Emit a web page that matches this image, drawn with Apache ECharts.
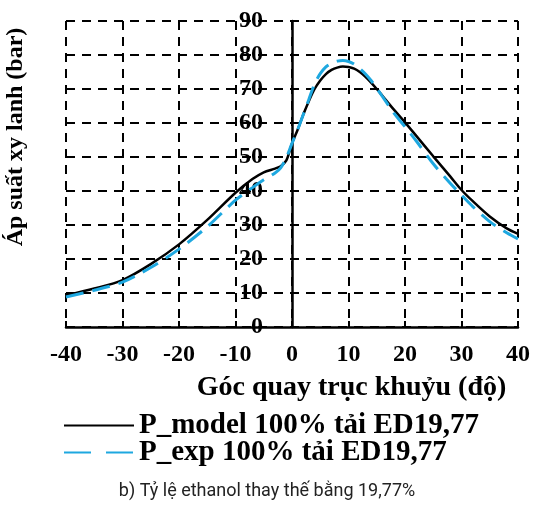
<!DOCTYPE html>
<html>
<head>
<meta charset="utf-8">
<script src="https://cdn.jsdelivr.net/npm/echarts@6/dist/echarts.min.js"></script>
<style>
  html, body { margin: 0; padding: 0; background: #fff; }
  #chart { width: 534px; height: 510px; }
</style>
</head>
<body>
<div id="chart"></div>
<script>
// crank angle (deg) and cylinder pressure (bar)
const angle = [-40, -35, -30, -25, -20, -15, -10, -7, -5, -3, -2, -1,
  0, 1, 2, 3, 4, 5, 6, 7, 8, 9, 10, 11, 12, 13, 14, 15, 16,
  18, 20, 22, 25, 28, 30, 32, 35, 38, 40];
const pModel = [9.3, 11.3, 13.8, 18.5, 24.3, 31.5, 39.5, 43.5, 45.5, 46.6, 47.3, 49.0,
  54.0, 58.0, 62.5, 66.5, 70.0, 72.5, 74.4, 75.6, 76.3, 76.6, 76.5, 76.0, 75.0, 73.6, 71.9, 70.0, 68.0,
  64.0, 60.2, 56.2, 50.2, 44.3, 40.3, 37.0, 32.5, 29.0, 27.4];
const pExp = [8.8, 10.8, 13.2, 17.5, 22.9, 29.5, 37.3, 41.0, 43.3, 45.3, 46.8, 49.8,
  54.0, 58.0, 62.5, 67.0, 71.5, 74.5, 76.5, 77.6, 78.2, 78.4, 78.1, 77.3, 76.0, 74.4, 72.5, 70.2, 67.8,
  63.0, 58.9, 54.7, 48.0, 42.3, 38.8, 35.4, 31.0, 27.7, 25.9];

const seriesNames = ['P_model 100% tải ED19,77', 'P_exp 100% tải ED19,77'];
const xRange = [-40, 40];
const yRange = [0, 90];

const serif = 'Liberation Serif';
const toPairs = (ys) => angle.map((a, i) => [a, ys[i]]);

const gridLeft = 66, gridWidth = 452;
// shift the y axis so it sits on x = 0
const yOffset = -gridWidth * (0 - xRange[0]) / (xRange[1] - xRange[0]);

const chart = echarts.init(document.getElementById('chart'));
chart.setOption({
  animation: false,
  grid: { left: gridLeft, width: gridWidth, top: 21, bottom: 183, outerBoundsMode: 'none', containLabel: false },
  xAxis: {
    type: 'value',
    min: xRange[0], max: xRange[1], interval: 10,
    name: 'Góc quay trục khuỷu (độ)',
    nameLocation: 'middle',
    nameGap: 47,
    nameTextStyle: { fontFamily: serif, fontWeight: 'bold', fontSize: 28, color: '#000', padding: [0, 0, 0, 119] },
    axisLine: { onZero: false, lineStyle: { color: '#000', width: 2.5 } },
    axisTick: { inside: true, length: 6, lineStyle: { color: '#000', width: 2 } },
    axisLabel: { margin: 16, hideOverlap: false, showMinLabel: true, showMaxLabel: true,
      fontFamily: serif, fontWeight: 'bold', fontSize: 24, color: '#000' },
    splitLine: { show: true, lineStyle: { color: '#000', width: 2, type: [9, 7] } }
  },
  yAxis: {
    type: 'value',
    min: yRange[0], max: yRange[1], interval: 10,
    offset: yOffset,
    name: 'Áp suất xy lanh (bar)',
    nameLocation: 'middle',
    nameGap: 264,
    nameTextStyle: { fontFamily: serif, fontWeight: 'bold', fontSize: 24, color: '#000', padding: [0, 0, 0, 74] },
    axisLine: { show: true, onZero: false, lineStyle: { color: '#000', width: 2.5 } },
    axisTick: { show: false },
    axisLabel: { margin: 29, hideOverlap: false, fontFamily: serif, fontWeight: 'bold', fontSize: 24, color: '#000' },
    splitLine: { show: true, lineStyle: { color: '#000', width: 2, type: [9, 7] } }
  },
  legend: {
    orient: 'vertical',
    left: 58, top: 406,
    itemWidth: 70, itemHeight: 14, itemGap: -2,
    itemStyle: { opacity: 0 },
    textStyle: { fontFamily: serif, fontWeight: 'bold', fontSize: 29, color: '#000', lineHeight: 27 },
    data: [
      { name: seriesNames[0] },
      { name: seriesNames[1], lineStyle: { type: [27, 15] } }
    ]
  },
  series: [
    {
      name: seriesNames[0], type: 'line', data: toPairs(pModel),
      smooth: 0.3, symbol: 'none',
      lineStyle: { color: '#000', width: 2.5 },
      itemStyle: { color: '#000' }
    },
    {
      name: seriesNames[1], type: 'line', data: toPairs(pExp),
      smooth: 0.3, symbol: 'none',
      lineStyle: { color: '#1ea8e0', width: 3, type: [18, 9] },
      itemStyle: { color: '#1ea8e0' }
    }
  ],
  graphic: [{
    type: 'text', left: 'center', top: 482,
    style: {
      text: 'b) Tỷ lệ ethanol thay thế bằng 19,77%',
      font: '18px Roboto, sans-serif',
      fill: '#222'
    }
  }]
});
</script>
</body>
</html>
